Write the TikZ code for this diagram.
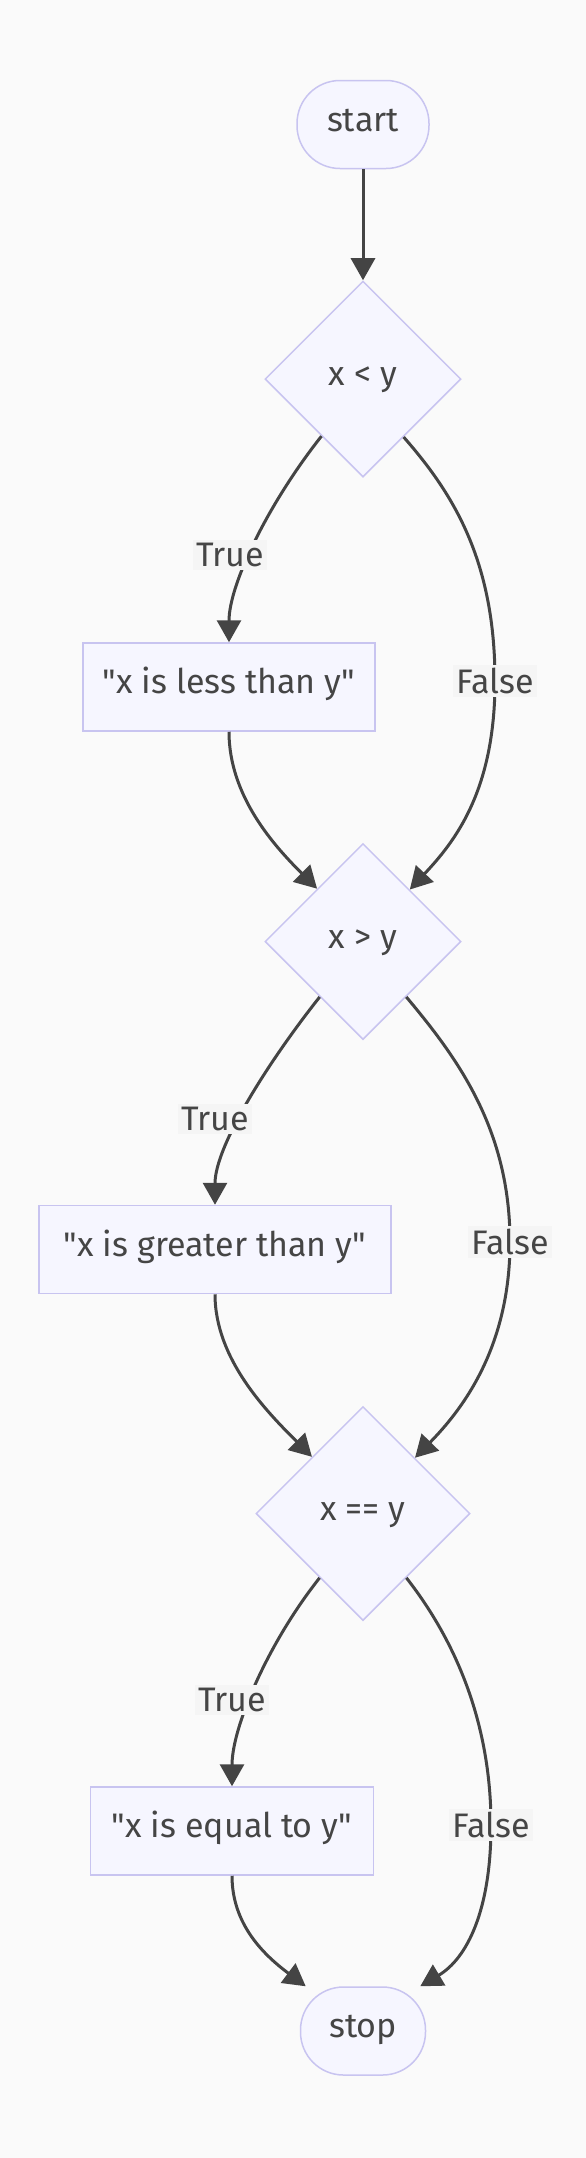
\documentclass[tikz,border=0pt]{standalone}
\usepackage{fontspec}
\setmainfont{Fira Sans}[Ligatures=TeXOff]
\usetikzlibrary{shapes.geometric,arrows.meta}
\definecolor{bgc}{HTML}{FAFAFA}
\definecolor{nodefill}{HTML}{F6F6FF}
\definecolor{nodeline}{HTML}{C8C4F0}
\definecolor{edgec}{HTML}{444444}
\definecolor{txtc}{HTML}{454545}
\definecolor{lblbg}{HTML}{F5F5F5}
\newcommand\dq{\symbol{34}}
\begin{document}
\begin{tikzpicture}[x=1pt,y=-1pt,
  every node/.style={font=\fontsize{34}{40}\selectfont, text=txtc},
  shp/.style={draw=nodeline, fill=nodefill, line width=1.5pt, inner sep=0pt, text height=22pt, text depth=9pt},
  term/.style={shp, rounded corners=43pt, minimum height=88pt},
  proc/.style={shp, minimum height=88pt},
  cond/.style={shp, diamond, aspect=1},
  lbl/.style={fill=lblbg, inner sep=3pt},
  arr/.style={draw=edgec, line width=3pt, -{Triangle[length=22pt,width=24pt]}},
]
\path[fill=bgc, use as bounding box] (0,0) rectangle (586,2158);

\node[term, minimum width=132pt] (start) at (363,124.5) {start};
\node[cond, minimum width=196pt, minimum height=196pt] (d1) at (363,379) {x < y};
\node[proc, minimum width=292pt] (b1) at (229,687) {\dq x is less than y\dq};
\node[cond, minimum width=196pt, minimum height=196pt] (d2) at (363,941.5) {x > y};
\node[proc, minimum width=352pt] (b2) at (215,1249.5) {\dq x is greater than y\dq};
\node[cond, minimum width=214pt, minimum height=214pt] (d3) at (363,1513.5) {x == y};
\node[proc, minimum width=283pt] (b3) at (232,1831) {\dq x is equal to y\dq};
\node[term, minimum width=125pt] (stop) at (363,2031) {stop};

\coordinate (m1) at (495,681);
\coordinate (m2) at (510,1242);
\coordinate (m3) at (491,1825);

\draw[arr] (start) -- (d1);
\draw[arr] (d1.234) .. controls +(-53,67) and +(0,-58) .. (b1.north);
\draw[arr] (d1.305) .. controls +(50,57) and +(0,-120) .. (m1) .. controls +(0,110) and +(45,-48) .. (d2.48);
\draw[arr] (b1.south) .. controls +(0,65) and +(-42,-42) .. (d2.131);

\draw[arr] (d2.232) .. controls +(-53,67) and +(0,-58) .. (b2.north);
\draw[arr] (d2.308) .. controls +(52,62) and +(0,-112) .. (m2) .. controls +(0,108) and +(45,-46) .. (d3.47);
\draw[arr] (b2.south) .. controls +(0,65) and +(-45,-45) .. (d3.132);

\draw[arr] (d3.236) .. controls +(-53,67) and +(0,-58) .. (b3.north);
\draw[arr] (d3.304) .. controls +(47,60) and +(0,-105) .. (m3) .. controls +(0,85) and +(47,-28) .. (stop.38);
\draw[arr] (b3.south) .. controls +(0,50) and +(-40,-30) .. (stop.142);

\node[lbl] (lt1) at (230,555) {True};
\node[lbl] (lf1) at (m1) {False};
\node[lbl] (lt2) at (215,1119) {True};
\node[lbl] (lf2) at (m2) {False};
\node[lbl] (lt3) at (232,1700) {True};
\node[lbl] (lf3) at (m3) {False};
\end{tikzpicture}
\end{document}
